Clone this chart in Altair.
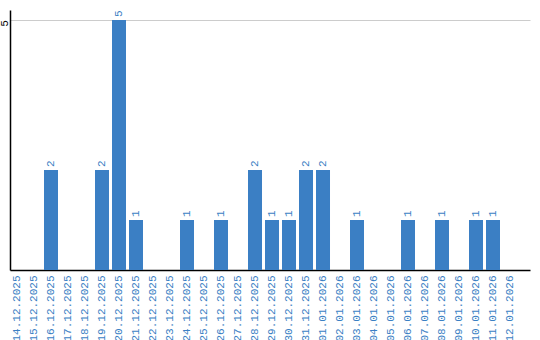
import altair as alt
import pandas as pd

dates = ["14.12.2025", "15.12.2025", "16.12.2025", "17.12.2025", "18.12.2025",
         "19.12.2025", "20.12.2025", "21.12.2025", "22.12.2025", "23.12.2025",
         "24.12.2025", "25.12.2025", "26.12.2025", "27.12.2025", "28.12.2025",
         "29.12.2025", "30.12.2025", "31.12.2025", "01.01.2026", "02.01.2026",
         "03.01.2026", "04.01.2026", "05.01.2026", "06.01.2026", "07.01.2026",
         "08.01.2026", "09.01.2026", "10.01.2026", "11.01.2026", "12.01.2026"]
counts = [0, 0, 2, 0, 0,
          2, 5, 1, 0, 0,
          1, 0, 1, 0, 2,
          1, 1, 2, 2, 0,
          1, 0, 0, 1, 0,
          1, 0, 1, 1, 0]

BLUE = "#3b7fc4"
FONT = "Liberation Mono"

df = pd.DataFrame({"date": dates, "count": counts})
df["label"] = df["count"].apply(lambda v: str(v) if v > 0 else "")

xscale = alt.Scale(paddingInner=3 / 17, paddingOuter=0.382, align=0)
yscale = alt.Scale(domain=[0, 5.2], nice=False)

x = alt.X("date:N", sort=dates, title=None, scale=xscale,
          axis=alt.Axis(labelAngle=270, ticks=False, labelPadding=5,
                        labelColor=BLUE, labelFont=FONT, labelFontSize=11,
                        domainColor="black", domainWidth=1.5, grid=False))
y = alt.Y("count:Q", title=None, scale=yscale,
          axis=alt.Axis(values=[5], ticks=False, labelAngle=270,
                        labelAlign="center", labelBaseline="alphabetic",
                        labelPadding=3, labelOffset=3, labelColor="black",
                        labelFont=FONT, labelFontSize=11, domainColor="black",
                        domainWidth=1.5, grid=True, gridColor="#cccccc",
                        gridWidth=1))

bars = alt.Chart(df).mark_bar(color=BLUE).encode(x=x, y=y)
texts = alt.Chart(df).mark_text(angle=270, align="left", baseline="middle",
                                dx=3, color=BLUE, font=FONT, fontSize=11).encode(
    x=alt.X("date:N", sort=dates, scale=xscale),
    y=alt.Y("count:Q", scale=yscale),
    text="label:N")

chart = (bars + texts).properties(
    width=520, height=260,
    background="white",
    autosize=alt.AutoSizeParams(type="none"),
    padding={"left": 10, "top": 10, "right": 10, "bottom": 70},
).configure_view(stroke=None)

chart.save("out.html", embed_options={"renderer": "svg", "actions": False})
